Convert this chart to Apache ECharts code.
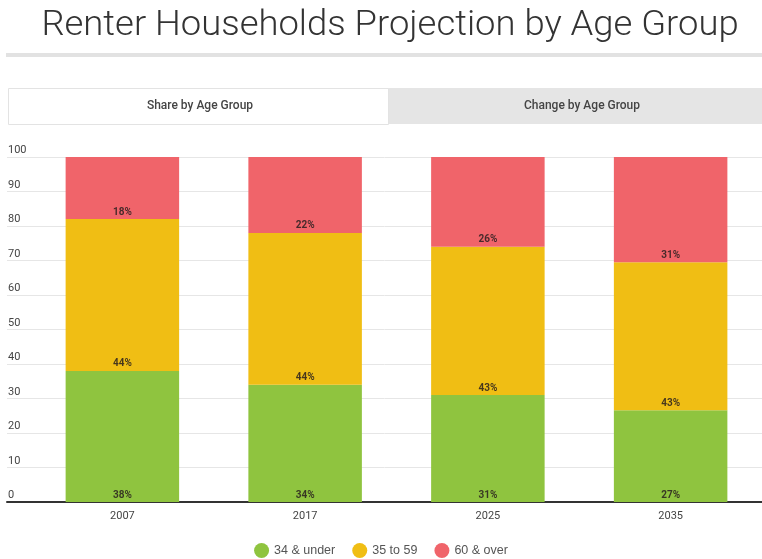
<!DOCTYPE html>
<html><head><meta charset="utf-8">
<script src="https://cdn.jsdelivr.net/npm/echarts@6/dist/echarts.min.js"></script>
<style>html,body{margin:0;padding:0;background:#fff}#c{width:762px;height:559px}</style>
</head><body><div id="c"></div>
<script>
const categories = ['2007', '2017', '2025', '2035'];
const under34 = [38, 34, 31, 26.6];
const from35to59 = [44, 44, 43, 42.9];
const over60 = [18, 22, 26, 30.5];
const seriesNames = ['34 & under', '35 to 59', '60 & over'];
const yTicks = [0, 10, 20, 30, 40, 50, 60, 70, 80, 90, 100];
const tabLabels = ['Share by Age Group', 'Change by Age Group'];
const titleText = 'Renter Households Projection by Age Group';
const colors = ['#8fc43f', '#f0be14', '#f0646a'];

const chart = echarts.init(document.getElementById('c'));
const FONT = 'Roboto, "Open Sans", sans-serif';
const gTop = 157, gBottom = 559 - 502;
const lbl = {
  show: true, position: 'insideBottom', distance: 2,
  formatter: p => Math.round(p.value) + '%',
  color: 'rgba(40,30,30,0.85)', fontSize: 10, fontWeight: 'bold', fontFamily: FONT
};
function mk(name, data, i) {
  return { name, type: 'bar', stack: 's', data, xAxisIndex: 1, yAxisIndex: 1,
    barWidth: 113.5, itemStyle: { color: colors[i] }, label: lbl, clip: true };
}
chart.setOption({
  animation: false,
  graphic: [
    { type: 'text', x: 390, y: 26, scaleX: 1.04, style: { text: titleText, align: 'center', verticalAlign: 'middle', fontSize: 35, fontWeight: 300, fontFamily: FONT, fill: '#333' } },
    { type: 'rect', shape: { x: 6, y: 53, width: 756, height: 4 }, style: { fill: '#e2e2e2' } },
    { type: 'rect', shape: { x: 388, y: 88, width: 374, height: 36 }, style: { fill: '#e5e5e5' } },
    { type: 'rect', shape: { x: 8.5, y: 88.5, width: 380, height: 36 }, style: { fill: '#fff', stroke: '#e3e3e3', lineWidth: 1 } },
    { type: 'text', x: 200, y: 105.5, style: { text: tabLabels[0], align: 'center', verticalAlign: 'middle', fontSize: 12, fontWeight: 500, fontFamily: FONT, fill: '#444' } },
    { type: 'text', x: 582, y: 105.5, style: { text: tabLabels[1], align: 'center', verticalAlign: 'middle', fontSize: 12, fontWeight: 500, fontFamily: FONT, fill: '#444' } }
  ],
  legend: { top: 538, left: 'center', icon: 'circle', itemWidth: 15, itemHeight: 15, itemGap: 17,
    textStyle: { fontFamily: '"Liberation Sans", Arial, sans-serif', fontSize: 12.5, color: '#555' }, data: seriesNames },
  grid: [
    { left: 7, right: 0, top: gTop, bottom: gBottom },
    { left: 31, right: -3, top: gTop, bottom: gBottom }
  ],
  xAxis: [
    { gridIndex: 0, type: 'value', min: 0, max: 1, show: true, axisLine: { show: true, onZero: false, lineStyle: { color: '#333', width: 2 } },
      axisTick: { show: false }, axisLabel: { show: false }, splitLine: { show: false } },
    { gridIndex: 1, type: 'category', data: categories, axisLine: { show: false }, axisTick: { show: false },
      axisLabel: { color: '#444', fontSize: 11, fontFamily: FONT, margin: 9 } }
  ],
  yAxis: [
    { gridIndex: 0, type: 'value', min: 0, max: 100, interval: 10,
      axisLine: { show: false }, axisTick: { show: false },
      splitLine: { lineStyle: { color: '#e6e6e6', width: 1 } },
      axisLabel: { inside: true, margin: 1, verticalAlign: 'bottom', padding: [0, 0, 1, 0],
        color: '#444', fontSize: 11, fontFamily: FONT,
        formatter: v => yTicks.includes(v) ? String(v) : '' } },
    { gridIndex: 1, type: 'value', min: 0, max: 100, show: false }
  ],
  series: [mk(seriesNames[0], under34, 0), mk(seriesNames[1], from35to59, 1), mk(seriesNames[2], over60, 2)]
});
</script></body></html>
